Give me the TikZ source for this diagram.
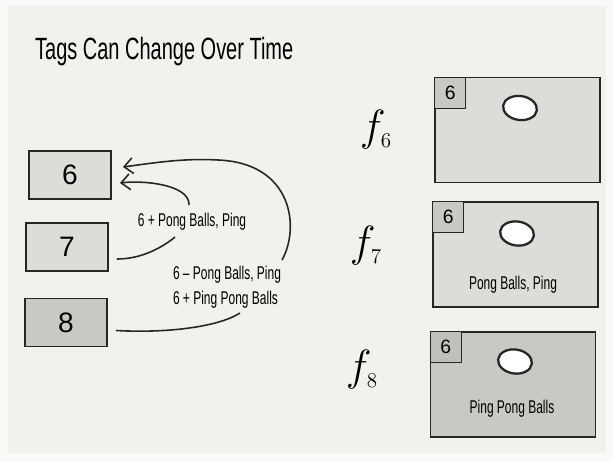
\documentclass[tikz,border=0pt]{standalone}
\usepackage{fontspec}
\setmainfont{Liberation Sans}
\usepackage{graphicx}
\usetikzlibrary{arrows.meta,shapes.geometric}
\definecolor{paper}{HTML}{F2F1ED}
\definecolor{rim}{HTML}{F9F9F7}
\definecolor{boxlight}{HTML}{DCDCD9}
\definecolor{boxdark}{HTML}{C8C9C4}
\definecolor{tagdark}{HTML}{BFC0BB}
\definecolor{ink}{HTML}{262626}
\newcommand{\hw}[1]{\scalebox{0.65}[1]{#1}}

\begin{document}
\begin{tikzpicture}[x=0.02cm, y=-0.02cm,
    smallbox/.style={draw=ink, line width=1.1pt, minimum width=1.64cm, minimum height=0.96cm, inner sep=0pt, font=\fontsize{16}{16}\selectfont},
    bigbox/.style={draw=ink, line width=1.1pt, minimum width=3.3cm, minimum height=2.1cm, inner sep=0pt},
    tagbox/.style={draw=ink, line width=0.8pt, minimum size=0.62cm, inner sep=0pt, anchor=north west, font=\fontsize{11}{11}\selectfont},
    egg/.style={ellipse, draw=ink, fill=white, line width=1.3pt, minimum width=0.68cm, minimum height=0.48cm, inner sep=0pt, rotate=-8},
    fun/.style={font=\fontsize{24}{24}\selectfont},
    link/.style={ink, line width=0.9pt},
    note/.style={font=\fontsize{10.5}{13}\selectfont, align=left, inner sep=0pt}]

    % Hintergrund
    \fill[rim] (0,0) rectangle (613,461);
    \fill[paper] (8,6) rectangle (606,453);
    \useasboundingbox (0,0) rectangle (613,461);

    % Titel
    \node[anchor=west, font=\fontsize{17.5}{18}\selectfont] (title) at (29,52) {\hw{Tags Can Change Over Time}};

    % Tags links
    \node[smallbox, fill=boxlight] (b6) at (70,175) {6};
    \node[smallbox, fill=boxlight] (b7) at (67,247) {7};
    \node[smallbox, fill=boxdark] (b8) at (66,322.5) {8};

    % Beschriftungen der Pfeile
    \node[note] (lab1) at (192,222) {\hw{6 + Pong Balls, Ping}};
    \node[note] (lab2) at (227,287) {\hw{6 -- Pong Balls, Ping}\\[1pt]\hw{6 + Ping Pong Balls}};

    % Pfeile
    \draw[link] ([shift={(8,12)}]b7.east) .. controls +(25,0) and +(-12,10) .. ([shift={(-17,15)}]lab1.center);
    \draw[link, -{Straight Barb[length=5pt,width=9pt]}] ([shift={(-3,-17)}]lab1.center)
        .. controls +(1,-20) and +(25,-3) .. ([shift={(8,8)}]b6.east);
    \draw[link] ([shift={(8,8)}]b8.east) .. controls +(55,3) and +(-20,13) .. ([shift={(13,26)}]lab2.center);
    \draw[link, -{Straight Barb[length=5pt,width=9pt]}] ([shift={(55,-27)}]lab2.center)
        .. controls +(18,-32) and +(75,3) .. (218,160)
        .. controls +(-35,-2) and +(30,-4) .. ([shift={(11,-8)}]b6.east);

    % Objekte rechts
    \node[bigbox, fill=boxlight] (p6) at (517.5,130) {};
    \node[tagbox, fill=boxdark] (t6) at (p6.north west) {6};
    \node[egg] (e6) at ([shift={(2.5,-22)}]p6.center) {};
    \node[fun] (f6) at (376,130) {$f_{\scriptscriptstyle 6}$};

    \node[bigbox, fill=boxlight] (p7) at (515.5,254.5) {};
    \node[tagbox, fill=boxdark] (t7) at (p7.north west) {6};
    \node[egg] (e7) at ([shift={(1.5,-21)}]p7.center) {};
    \node[note] (s7) at ([shift={(-2.5,30)}]p7.center) {\hw{Pong Balls, Ping}};
    \node[fun] (f7) at (366,246) {$f_{\scriptscriptstyle 7}$};

    \node[bigbox, fill=boxdark] (p8) at (513,384.5) {};
    \node[tagbox, fill=tagdark] (t8) at (p8.north west) {6};
    \node[egg] (e8) at ([shift={(2,-23)}]p8.center) {};
    \node[note] (s8) at ([shift={(-1,24)}]p8.center) {\hw{Ping Pong Balls}};
    \node[fun] (f8) at (362,370) {$f_{\scriptscriptstyle 8}$};
  \end{tikzpicture}
\end{document}
